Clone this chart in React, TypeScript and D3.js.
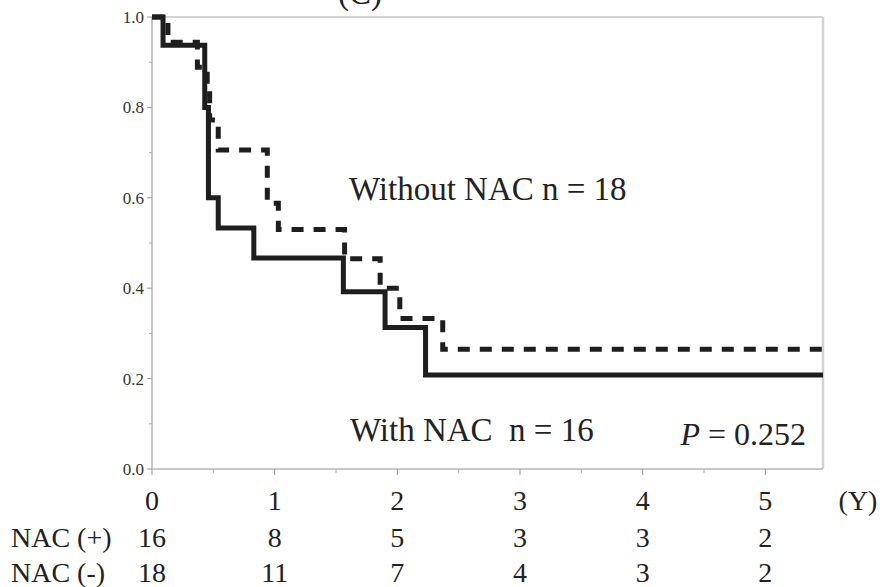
import React from 'react';
import * as d3 from 'd3';

// Kaplan-Meier estimates (time in years)
const withTimes = [0, 0.09, 0.43, 0.46, 0.54, 0.83, 1.56, 1.9, 2.23, 5.47];
const withSurv = [1, 0.9375, 0.8, 0.6, 0.533, 0.467, 0.392, 0.313, 0.208, 0.208];

const withoutTimes = [0, 0.13, 0.37, 0.45, 0.47, 0.54, 0.94, 1.03, 1.57, 1.86, 2.02, 2.37, 5.47];
const withoutSurv = [1, 0.944, 0.889, 0.83, 0.772, 0.706, 0.588, 0.53, 0.465, 0.4, 0.333, 0.265, 0.265];

const yearTicks = [0, 1, 2, 3, 4, 5];
const yTicks = [0, 0.2, 0.4, 0.6, 0.8, 1.0];
const riskWith = [16, 8, 5, 3, 3, 2];
const riskWithout = [18, 11, 7, 4, 3, 2];

const W = 883;
const H = 587;
const left = 152;
const right = 823;
const top = 17;
const bottom = 469;
const serifStyle = { fontFamily: "'Liberation Serif', 'Times New Roman', 'DejaVu Serif', serif" };

const App = () => {
  const x = d3.scaleLinear().domain([0, 5.47]).range([left, right]);
  const y = d3.scaleLinear().domain([0, 1]).range([bottom, top]);

  const step = d3
    .line<[number, number]>()
    .x((d) => x(d[0]))
    .y((d) => y(d[1]))
    .curve(d3.curveStepAfter);

  const solidPath = step(withTimes.map((t, i) => [t, withSurv[i]] as [number, number])) || '';
  const dashPath = step(withoutTimes.map((t, i) => [t, withoutSurv[i]] as [number, number])) || '';

  const minorX = d3.range(0.5, 5.47, 1);
  const minorY = d3.range(0.1, 1, 0.2);

  return (
    <svg width={W} height={H} style={{ position: 'absolute', left: 0, top: 0, background: '#fff' }}>
      <g style={serifStyle} fill="#222">
        {/* panel label, cut off at the top like the source */}
        <text x={360} y={4} textAnchor="middle" fontSize={33}>
          (C)
        </text>

        {/* frame */}
        <line x1={left} x2={right} y1={top} y2={top} stroke="#c4c4c4" strokeWidth={1.5} />
        <line x1={right} x2={right} y1={top} y2={bottom} stroke="#d2d2d2" strokeWidth={2.5} />
        <line x1={left} x2={right} y1={bottom} y2={bottom} stroke="#b4b4b4" strokeWidth={1.5} />
        <line x1={left} x2={left} y1={top} y2={bottom} stroke="#b4b4b4" strokeWidth={1.5} />

        {/* y ticks */}
        {yTicks.map((v) => (
          <g key={'y' + v}>
            <line x1={left - 5} x2={left} y1={y(v)} y2={y(v)} stroke="#999" strokeWidth={1} />
            <text x={left - 8} y={y(v)} dy="0.35em" textAnchor="end" fontSize={17} fill="#333">
              {v.toFixed(1)}
            </text>
          </g>
        ))}
        {minorY.map((v) => (
          <line key={'my' + v} x1={left - 3} x2={left} y1={y(v)} y2={y(v)} stroke="#aaa" strokeWidth={1} />
        ))}

        {/* x ticks */}
        {yearTicks.map((v) => (
          <g key={'x' + v}>
            <line x1={x(v)} x2={x(v)} y1={bottom} y2={bottom + 6} stroke="#999" strokeWidth={1} />
            <text x={x(v)} y={510} textAnchor="middle" fontSize={28}>
              {v}
            </text>
          </g>
        ))}
        {minorX.map((v) => (
          <line key={'mx' + v} x1={x(v)} x2={x(v)} y1={bottom} y2={bottom + 4} stroke="#aaa" strokeWidth={1} />
        ))}
        <text x={858} y={510} textAnchor="middle" fontSize={28}>
          (Y)
        </text>

        {/* survival curves */}
        <path d={dashPath} fill="none" stroke="#1e1e1e" strokeWidth={5} strokeDasharray="12,10" />
        <path d={solidPath} fill="none" stroke="#1e1e1e" strokeWidth={5} />

        {/* annotations */}
        <text x={349} y={200} fontSize={33}>
          Without NAC n = 18
        </text>
        <text x={350} y={441} fontSize={33} style={{ whiteSpace: 'pre' }}>
          {'With NAC  n = 16'}
        </text>
        <text x={806} y={445} textAnchor="end" fontSize={32}>
          <tspan fontStyle="italic">P</tspan>
          <tspan> = 0.252</tspan>
        </text>

        {/* number at risk */}
        <text x={11} y={547} fontSize={28}>
          NAC (+)
        </text>
        <text x={11} y={582} fontSize={28}>
          NAC (-)
        </text>
        {riskWith.map((n, i) => (
          <text key={'rw' + i} x={x(yearTicks[i])} y={547} textAnchor="middle" fontSize={28}>
            {n}
          </text>
        ))}
        {riskWithout.map((n, i) => (
          <text key={'rwo' + i} x={x(yearTicks[i])} y={582} textAnchor="middle" fontSize={28}>
            {n}
          </text>
        ))}
      </g>
    </svg>
  );
};

export default App;
